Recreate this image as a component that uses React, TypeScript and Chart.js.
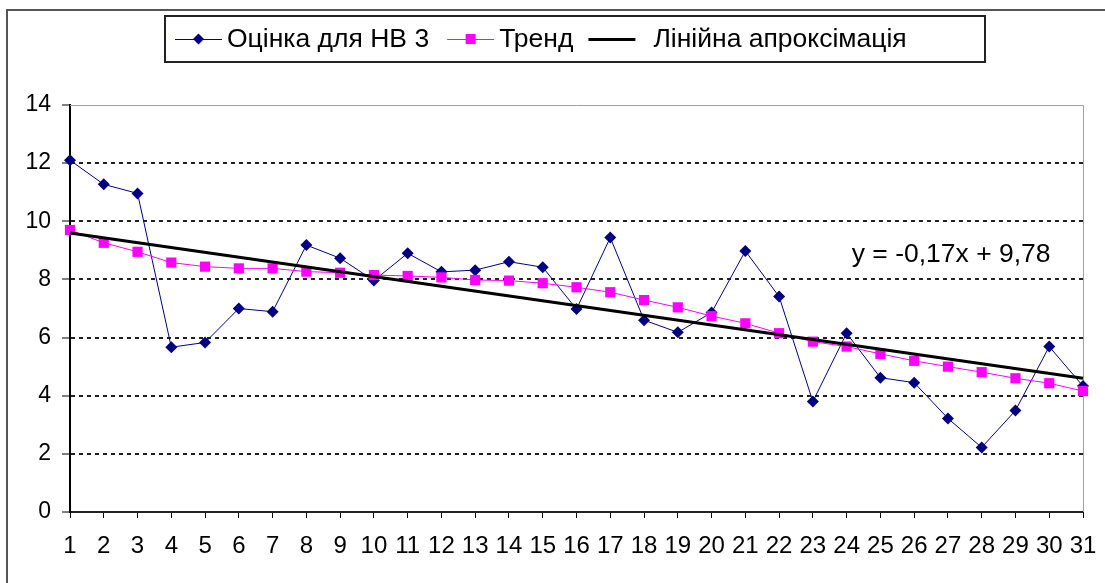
import React, { useEffect, useRef } from "react";
import { Chart, registerables } from "chart.js";

Chart.register(...registerables);

const categories = [1, 2, 3, 4, 5, 6, 7, 8, 9, 10, 11, 12, 13, 14, 15, 16, 17, 18, 19, 20, 21, 22, 23, 24, 25, 26, 27, 28, 29, 30, 31];
const estimateValues = [12.1, 11.27, 10.96, 5.67, 5.83, 7.0, 6.89, 9.18, 8.73, 7.96, 8.9, 8.26, 8.32, 8.61, 8.42, 6.98, 9.44, 6.6, 6.18, 6.86, 8.98, 7.41, 3.8, 6.15, 4.62, 4.45, 3.22, 2.22, 3.49, 5.69, 4.33];
const trendValues = [9.7, 9.26, 8.95, 8.58, 8.44, 8.38, 8.38, 8.27, 8.23, 8.15, 8.12, 8.07, 7.98, 7.96, 7.87, 7.73, 7.56, 7.29, 7.04, 6.74, 6.49, 6.15, 5.86, 5.69, 5.44, 5.2, 5.0, 4.81, 4.6, 4.43, 4.16];
const linearX = [1, 31];
const linearY = [9.6, 4.6];
const seriesNames = ["Оцінка для НВ 3", "Тренд", "Лінійна апроксімація"];
const yTicks = [0, 2, 4, 6, 8, 10, 12, 14];
const equationText = "y = -0,17x + 9,78";

const FONT = "'Liberation Sans', Arial, sans-serif";
const BLUE = "#000080";
const PINK = "#ff00ff";

export default function App() {
  const canvasRef = useRef<HTMLCanvasElement | null>(null);

  useEffect(() => {
    document.body.style.margin = "0";
    const canvas = canvasRef.current;
    if (!canvas) return;

    const decorPlugin = {
      id: "decor",
      beforeDatasetsDraw(chart: any) {
        const { ctx, chartArea } = chart;
        ctx.save();
        ctx.strokeStyle = "#a0a0a0";
        ctx.lineWidth = 1;
        ctx.beginPath();
        ctx.moveTo(chartArea.left, chartArea.top + 0.5);
        ctx.lineTo(chartArea.right + 0.5, chartArea.top + 0.5);
        ctx.lineTo(chartArea.right + 0.5, chartArea.bottom);
        ctx.stroke();
        ctx.restore();
      },
      afterDraw(chart: any) {
        const { ctx, scales } = chart;
        ctx.save();
        // outer frame (top and left visible)
        ctx.strokeStyle = "#555";
        ctx.lineWidth = 2;
        ctx.beginPath();
        ctx.moveTo(7, 583);
        ctx.lineTo(7, 10);
        ctx.lineTo(1105, 10);
        ctx.stroke();

        // legend box
        ctx.strokeStyle = "#222";
        ctx.lineWidth = 2;
        ctx.strokeRect(165, 16, 820, 46);

        const cy = 39;
        ctx.font = `26.5px ${FONT}`;
        ctx.textBaseline = "middle";
        ctx.fillStyle = "#000";
        let x = 175;
        const sampleW = 47;
        const styles = [
          { color: BLUE, width: 1, marker: "diamond" },
          { color: PINK, width: 1, marker: "square" },
          { color: "#000", width: 3, marker: "none" },
        ];
        seriesNames.forEach((name, i) => {
          const s = styles[i];
          ctx.strokeStyle = s.color;
          ctx.lineWidth = s.width;
          ctx.beginPath();
          ctx.moveTo(x, cy + (s.width % 2 ? 0.5 : 0));
          ctx.lineTo(x + sampleW, cy + (s.width % 2 ? 0.5 : 0));
          ctx.stroke();
          const mx = x + sampleW / 2;
          ctx.fillStyle = s.color;
          if (s.marker === "diamond") {
            ctx.beginPath();
            ctx.moveTo(mx, cy - 5.5);
            ctx.lineTo(mx + 5.5, cy);
            ctx.lineTo(mx, cy + 5.5);
            ctx.lineTo(mx - 5.5, cy);
            ctx.closePath();
            ctx.fill();
          } else if (s.marker === "square") {
            ctx.fillRect(mx - 5, cy - 5, 10, 10);
          }
          ctx.fillStyle = "#000";
          const tx = x + sampleW + (i === 2 ? 18 : 5);
          ctx.fillText(name, tx, cy + 1);
          x = tx + ctx.measureText(name).width + (i === 0 ? 18 : 15);
        });

        // equation label
        const ex = scales.x.getPixelForValue(24.15);
        const ey = scales.y.getPixelForValue(8.85);
        ctx.font = `26.5px ${FONT}`;
        ctx.textBaseline = "middle";
        ctx.textAlign = "left";
        ctx.fillStyle = "#000";
        ctx.fillText(equationText, ex, ey);
        ctx.restore();
      },
    };

    const chart = new Chart(canvas, {
      type: "line",
      data: {
        datasets: [
          {
            label: seriesNames[0],
            data: categories.map((c, i) => ({ x: c, y: estimateValues[i] })),
            borderColor: BLUE,
            backgroundColor: BLUE,
            borderWidth: 1,
            pointStyle: "rectRot",
            pointRadius: 6,
            pointBorderWidth: 0,
            pointBackgroundColor: BLUE,
            clip: false,
            order: 3,
          },
          {
            label: seriesNames[1],
            data: categories.map((c, i) => ({ x: c, y: trendValues[i] })),
            borderColor: PINK,
            backgroundColor: PINK,
            borderWidth: 1,
            pointStyle: "rect",
            pointRadius: 7.2,
            pointBorderWidth: 0,
            pointBackgroundColor: PINK,
            clip: false,
            order: 2,
          },
          {
            label: seriesNames[2],
            data: linearX.map((x, i) => ({ x, y: linearY[i] })),
            borderColor: "#000",
            backgroundColor: "#000",
            borderWidth: 3,
            pointRadius: 0,
            clip: false,
            order: 1,
          },
        ],
      },
      options: {
        animation: false,
        responsive: false,
        devicePixelRatio: 1,
        layout: { padding: { top: 105, left: 0, right: 22, bottom: 0 } },
        plugins: {
          legend: { display: false },
          tooltip: { enabled: false },
        },
        scales: {
          x: {
            type: "linear",
            min: 1,
            max: 31,
            afterFit(scale: any) {
              scale.height = 71;
              scale.paddingRight = 8;
              scale.paddingLeft = 8;
            },
            afterBuildTicks(scale: any) {
              scale.ticks = categories.map((v) => ({ value: v }));
            },
            ticks: {
              autoSkip: false,
              maxRotation: 0,
              padding: 14,
              color: "#000",
              font: { family: FONT, size: 24 },
              callback: (v: any) => String(v),
            },
            grid: {
              drawOnChartArea: false,
              drawTicks: true,
              tickLength: 6,
              color: "#000",
              tickColor: "#000",
              tickWidth: 1,
            },
            border: { display: true, color: "#222", width: 2 },
          },
          y: {
            type: "linear",
            min: 0,
            max: 14,
            afterFit(scale: any) {
              scale.width = 70;
            },
            afterBuildTicks(scale: any) {
              scale.ticks = yTicks.map((v) => ({ value: v }));
            },
            ticks: {
              padding: 11,
              color: "#000",
              font: { family: FONT, size: 23 },
              callback: (v: any) => String(v),
            },
            grid: {
              drawTicks: true,
              tickLength: 8,
              lineWidth: 2,
              color: (ctx: any) =>
                ctx.tick && (ctx.tick.value === 14 || ctx.tick.value === 0) ? "rgba(0,0,0,0)" : "#222",
              tickColor: "#000",
              tickWidth: 1,
              tickBorderDash: [],
            },
            border: { display: true, color: "#000", width: 2, dash: [4, 4] },
          },
        },
      },
      plugins: [decorPlugin],
    } as any);

    return () => {
      chart.destroy();
    };
  }, []);

  return (
    <div style={{ width: 1105, height: 583, background: "#fff" }}>
      <canvas ref={canvasRef} width={1105} height={583} />
    </div>
  );
}
